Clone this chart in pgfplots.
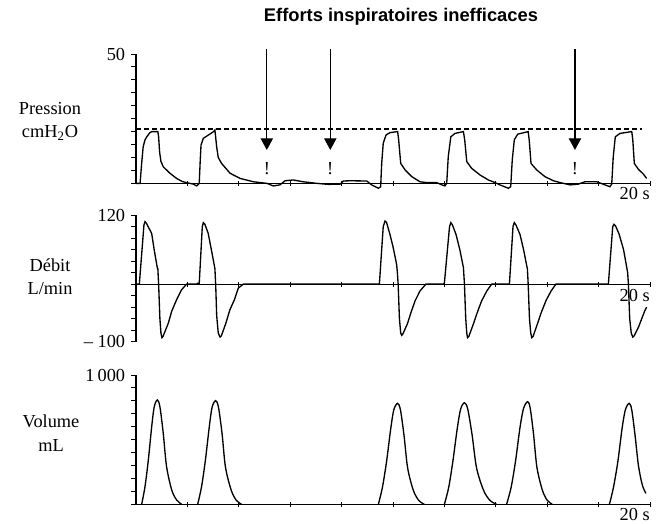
\documentclass[border=0pt]{standalone}
\usepackage{pgfplots}
\pgfplotsset{compat=1.18}
\usepackage{fontspec}
\setmainfont{Liberation Serif}
\newfontfamily\titlefont{Liberation Sans}
\usetikzlibrary{arrows.meta}

% one trace of the ventilator screen
\pgfplotsset{
  trace/.style={scale only axis, width=308.4pt, height=77.6pt,
    xmin=0, xmax=20, clip=false,
    xtick={2,4,...,20}, xticklabel=\empty,
    major tick length=3pt, minor tick length=3pt,
    tick style={line width=0.6pt, black},
    tick label style={font=\fontsize{11}{13}\selectfont},
  },
  fin/.style={axis line style={-, line width=0.7pt, black}, xtick align=center, ytick align=outside},
  curve/.style={black, line width=0.8pt, no markers},
  breath/.style={curve, smooth, tension=0.5},
}
\newcommand\secs{\node[anchor=north east, inner sep=0pt, font=\fontsize{11}{13}\selectfont]}

\begin{document}
\begin{tikzpicture}
\useasboundingbox (0,0) rectangle (396pt,-313.8pt);

\node[font=\titlefont\bfseries\fontsize{11}{13}\selectfont] at (240.6pt,-10.2pt) {Efforts inspiratoires inefficaces};
\node[align=center, font=\fontsize{11}{14}\selectfont] at (30pt,-72.6pt) {Pression\\cmH\textsubscript{2}O};
\node[align=center, font=\fontsize{11}{14}\selectfont] at (30pt,-165.9pt) {Débit\\L/min};
\node[align=center, font=\fontsize{11}{14}\selectfont] at (30.6pt,-259.8pt) {Volume\\mL};

% Pression
\begin{axis}[trace, axis lines=left, fin, at={(81.6pt,-110pt)}, anchor=south west,
  ymin=0, ymax=50, ytick={50}, yticklabels={50}, minor ytick={0,5,...,45}]
\addplot[black, dash pattern=on 3pt off 1.8pt, line width=0.7pt] coordinates {(0,21) (19.7,21)};
\addplot[curve] coordinates {
(0,0) (0.16,0) (0.19,4) (0.22,7.7) (0.28,14.2) (0.35,16.8) (0.42,18) (0.54,19.6) (0.62,20) (0.85,20)
(0.88,18) (0.92,12) (0.97,8.5) (1.06,6.4) (1.32,3.9) (1.58,1.9) (1.8,0.7) (1.97,0.26)
(2.23,-0.3) (2.36,-1) (2.46,0)
(2.5,9) (2.53,14.8) (2.62,17.4) (2.82,18.7) (3.02,20) (3.07,20.6) (3.14,14) (3.2,10) (3.33,7.7)
(3.66,3.9) (4.05,1.9) (4.57,0.6) (5.09,0) (5.34,-1) (5.6,-0.6) (5.8,1) (6.12,1.3) (6.51,0.6)
(7.03,0) (7.48,-0.4) (7.94,-0.3) (8.07,0.9) (8.33,1) (8.98,0.9) (9.17,-0.6) (9.43,-1.9) (9.52,-1.3)
(9.56,7.7) (9.62,15.5) (9.73,18.7) (9.88,19.6) (10.18,20) (10.22,16.8) (10.3,7.7) (10.47,5.2)
(10.73,2.6) (11.05,0.6) (11.31,0.3) (11.7,0.3) (11.9,-0.6) (12.02,-1) (12.09,0)
(12.15,10.3) (12.25,18) (12.41,19.3) (12.74,20) (12.79,16.8) (12.87,8.4) (13.06,5.8) (13.39,3.2)
(13.71,1.3) (13.97,0.3) (14.16,-0.6) (14.49,-1.9) (14.58,-1.3)
(14.64,9) (14.72,16.8) (14.85,19) (15.26,20) (15.3,16.8) (15.37,7.7) (15.59,5.2) (15.91,2.6)
(16.24,1) (16.5,0.3) (16.89,-0.6) (17.21,-0.3) (17.47,0.6) (17.93,0.6) (18.25,-0.6) (18.44,-1.3) (18.51,-0.3)
(18.57,10.3) (18.65,18) (18.83,19.3) (19.29,20) (19.33,16.8) (19.39,7.7) (19.55,5.4) (19.74,3.6) (19.87,1.9)
};
\foreach \t in {5.09,7.56,17.08}{
  \edef\tmp{\noexpand\draw[line width=0.75pt, -{Triangle[length=7pt,width=7.4pt]}] (axis cs:\t,51.9) -- (axis cs:\t,12.9);
    \noexpand\node[font=\noexpand\fontsize{11}{13}\noexpand\selectfont] at (axis cs:\t,5.6) {!};}
  \tmp
}
\secs at (axis cs:20,0) [yshift=-2pt] {20 s};
\end{axis}

% Debit
\begin{axis}[trace, axis x line=middle, axis y line=left, fin, at={(81.6pt,-205pt)}, anchor=south west,
  height=76pt, ymin=-100, ymax=120, ytick={-100,120}, yticklabels={–\ 100,120}, minor ytick={-80,-60,...,100}]
\addplot[curve] coordinates {
(0,0) (0.13,0) (0.31,103) (0.35,108.5) (0.4,106) (0.61,88) (0.71,59) (0.83,28) (0.85,27) (0.88,0)
(0.93,-60) (0.97,-85) (1.01,-93) (1.05,-91) (1.26,-67.5) (1.39,-47) (1.58,-27) (1.77,-10) (1.97,0)
(2.36,0) (2.4,1.5) (2.46,0.5) (2.58,100) (2.62,106.7) (2.68,104) (2.81,88) (2.94,58) (3.07,27) (3.1,0)
(3.14,-55) (3.2,-85) (3.27,-92) (3.32,-90) (3.5,-67.5) (3.65,-45) (3.83,-27) (3.98,-7) (4.18,0)
(9.47,0) (9.62,100) (9.69,109.6) (9.75,107) (9.88,86.5) (10.0,65) (10.14,34.6) (10.17,20) (10.2,0)
(10.25,-60) (10.3,-85) (10.34,-89) (10.38,-87) (10.56,-69) (10.71,-48) (10.86,-29) (11.05,-12) (11.28,0)
(11.96,0) (12.0,2) (12.2,100) (12.25,106.7) (12.31,103) (12.45,86.5) (12.6,60) (12.74,28.8) (12.78,0)
(12.83,-60) (12.87,-85) (12.9,-93) (12.95,-91) (13.13,-69) (13.29,-48) (13.45,-29) (13.65,-12) (13.84,0)
(14.53,0) (14.67,100) (14.72,106.7) (14.78,103) (14.94,86.5) (15.08,60) (15.23,26) (15.26,0)
(15.31,-60) (15.36,-85) (15.4,-93) (15.45,-91) (15.62,-69) (15.78,-48) (15.95,-29) (16.15,-12) (16.34,0)
(18.38,0) (18.55,100) (18.6,103.9) (18.66,101) (18.8,86.5) (18.97,60) (19.13,20.2) (19.16,0)
(19.21,-60) (19.27,-85) (19.33,-92) (19.38,-90) (19.55,-75) (19.8,-46) (19.87,-40)
};
\secs at (axis cs:20,0) [yshift=-2.8pt] {20 s};
\end{axis}

% Volume
\begin{axis}[trace, axis lines=left, fin, at={(81.6pt,-302.6pt)}, anchor=south west,
  ymin=0, ymax=1000, ytick={1000}, yticklabels={1\,000}, minor ytick={0,100,...,900}]
\addplot[breath] coordinates {(0.22,0) (0.35,137) (0.48,343) (0.61,600) (0.71,755) (0.83,807) (0.93,755) (1.06,549)
(1.19,291) (1.39,111) (1.58,34) (1.78,0)};
\addplot[breath] coordinates {(2.4,0) (2.55,136) (2.70,341) (2.85,597) (2.96,750) (3.10,802) (3.21,750) (3.35,545) (3.48,289) (3.70,112) (3.90,32) (4.11,0)};
\addplot[breath] coordinates {(9.43,0) (9.59,133) (9.75,332) (9.91,582) (10.03,730) (10.18,781) (10.29,730) (10.43,531) (10.57,281) (10.79,109) (11.0,31) (11.22,0)};
\addplot[breath] coordinates {(12.0,0) (12.17,134) (12.33,334) (12.5,586) (12.63,735) (12.78,786) (12.91,735) (13.08,534) (13.25,283) (13.52,110) (13.77,31) (14.03,0)};
\addplot[breath] coordinates {(14.42,0) (14.6,135) (14.77,337) (14.94,592) (15.08,742) (15.24,794) (15.34,742) (15.47,540) (15.6,286) (15.81,111) (16.0,32) (16.2,0)};
\addplot[breath] coordinates {(18.42,0) (18.58,133) (18.75,332) (18.91,582) (19.04,730) (19.19,781) (19.29,730) (19.42,531) (19.55,300) (19.7,150) (19.84,85)};
\secs at (axis cs:20,0) [yshift=-2.2pt] {20 s};
\end{axis}
\end{tikzpicture}
\end{document}
